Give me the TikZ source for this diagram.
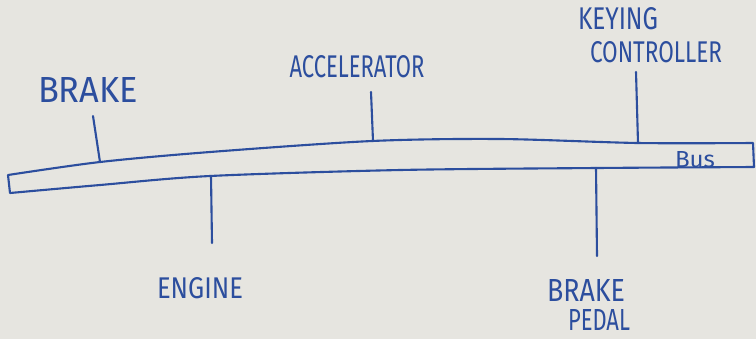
\documentclass[tikz,border=0pt]{standalone}
\usepackage{fontspec}
\usepackage{graphicx}
\setmainfont{Fira Sans}
\definecolor{ink}{HTML}{2C4E9E}
\definecolor{paper}{HTML}{E6E5E0}
\newcommand{\hw}[3]{\resizebox{#1cm}{#2cm}{#3}}
\begin{document}
\begin{tikzpicture}[x=0.02cm,y=-0.02cm,
  inkline/.style={draw=ink,line width=1.2pt,line cap=round,line join=round},
  lbl/.style={text=ink,inner sep=0pt,font=\normalsize}]
\fill[paper] (0,0) rectangle (756,339);
\useasboundingbox (0,0) rectangle (756,339);
% bus
\draw[inkline] plot[smooth,tension=0.5] coordinates {(8,175) (100,162) (210,152) (372,141) (500,139) (638,143) (753,143)}
  -- (754,167)
  -- plot[smooth,tension=0.5] coordinates {(754,167) (596,168) (400,170) (210,176) (100,185) (10,193)}
  -- cycle;
% bus attachment points
\coordinate (bBrake) at (100,162);
\coordinate (bAcc) at (373,141);
\coordinate (bKey) at (638,143);
\coordinate (bEng) at (211,176);
\coordinate (bPed) at (596,168);
% line free ends
\coordinate (tBrake) at (93,116);
\coordinate (tAcc) at (371,92);
\coordinate (tKey) at (636,72);
\coordinate (tEng) at (212,243);
\coordinate (tPed) at (597,256);
\draw[inkline] (tBrake) -- (bBrake);
\draw[inkline] (tAcc) -- (bAcc);
\draw[inkline] (tKey) -- (bKey);
\draw[inkline] (bEng) -- (tEng);
\draw[inkline] (bPed) -- (tPed);
% labels
\node[lbl] (lBrake) at (88,90) {\hw{2.0}{0.5}{BRAKE}};
\node[lbl] (lAcc) at (357,67) {\hw{2.7}{0.44}{ACCELERATOR}};
\node[lbl] (lKey) at (618,19) {\hw{1.6}{0.44}{KEYING}};
\node[lbl] (lCon) at (656,52) {\hw{2.64}{0.42}{CONTROLLER}};
\node[lbl] (lBus) at (695,160) {\hw{0.8}{0.32}{Bus}};
\node[lbl] (lEng) at (200,288) {\hw{1.72}{0.42}{ENGINE}};
\node[lbl] (lPed1) at (586,290) {\hw{1.56}{0.44}{BRAKE}};
\node[lbl] (lPed2) at (599,320) {\hw{1.24}{0.42}{PEDAL}};
\end{tikzpicture}
\end{document}
